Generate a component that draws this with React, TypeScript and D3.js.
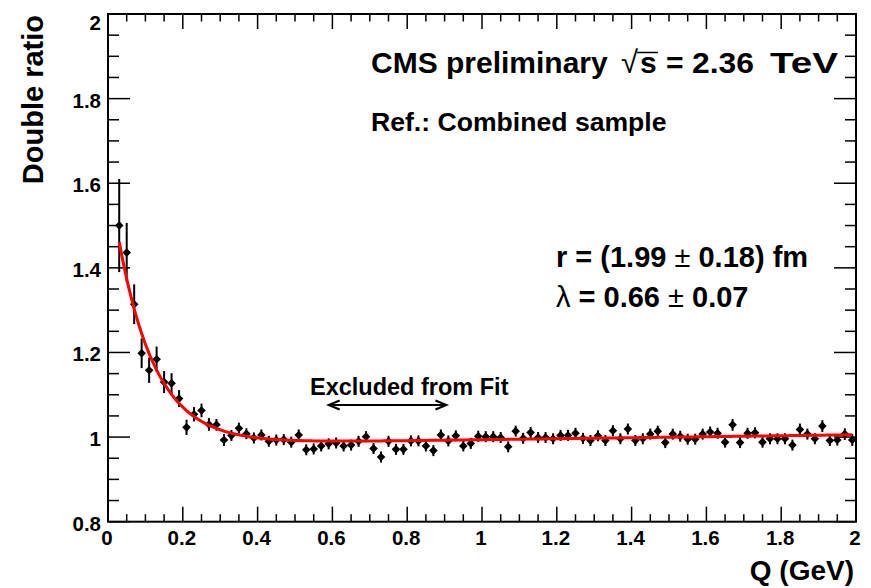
import React from 'react';
import * as d3 from 'd3';

// Bin centres of Q (GeV)
const qCenters = [
  0.03, 0.05, 0.07, 0.09, 0.11, 0.13, 0.15, 0.17, 0.19, 0.21,
  0.23, 0.25, 0.27, 0.29, 0.31, 0.33, 0.35, 0.37, 0.39, 0.41,
  0.43, 0.45, 0.47, 0.49, 0.51, 0.53, 0.55, 0.57, 0.59, 0.61,
  0.63, 0.65, 0.67, 0.69, 0.71, 0.73, 0.75, 0.77, 0.79, 0.81,
  0.83, 0.85, 0.87, 0.89, 0.91, 0.93, 0.95, 0.97, 0.99, 1.01,
  1.03, 1.05, 1.07, 1.09, 1.11, 1.13, 1.15, 1.17, 1.19, 1.21,
  1.23, 1.25, 1.27, 1.29, 1.31, 1.33, 1.35, 1.37, 1.39, 1.41,
  1.43, 1.45, 1.47, 1.49, 1.51, 1.53, 1.55, 1.57, 1.59, 1.61,
  1.63, 1.65, 1.67, 1.69, 1.71, 1.73, 1.75, 1.77, 1.79, 1.81,
  1.83, 1.85, 1.87, 1.89, 1.91, 1.93, 1.95, 1.97, 1.99,
];

// Double ratio values
const doubleRatio = [
  1.500, 1.436, 1.314, 1.198, 1.158, 1.184, 1.130, 1.127, 1.091, 1.023,
  1.054, 1.063, 1.030, 1.029, 0.993, 1.004, 1.021, 1.008, 0.998, 1.005,
  0.990, 0.993, 0.994, 0.988, 1.005, 0.970, 0.972, 0.979, 0.984, 0.986,
  0.979, 0.981, 0.990, 1.001, 0.973, 0.953, 0.990, 0.971, 0.971, 0.991,
  0.991, 0.979, 0.968, 1.005, 0.991, 1.003, 0.979, 0.985, 1.002, 1.001,
  1.001, 0.999, 0.977, 1.014, 0.997, 1.011, 0.999, 0.999, 0.996, 1.004,
  1.004, 1.009, 0.997, 0.992, 1.003, 0.992, 1.015, 0.996, 1.019, 0.992,
  0.996, 1.007, 1.014, 0.987, 1.007, 1.002, 0.995, 0.995, 1.007, 1.012,
  1.009, 0.988, 1.029, 0.987, 1.009, 1.010, 0.988, 0.996, 0.996, 0.996,
  0.981, 1.018, 1.007, 0.996, 1.026, 0.992, 0.993, 1.007, 0.993,
];

// Statistical errors
const ratioErrors = [
  0.110, 0.070, 0.047, 0.035, 0.030, 0.030, 0.026, 0.024, 0.020, 0.018,
  0.017, 0.016, 0.015, 0.014, 0.014, 0.013, 0.013, 0.013, 0.013, 0.013,
  0.013, 0.013, 0.013, 0.013, 0.013, 0.013, 0.013, 0.013, 0.013, 0.013,
  0.013, 0.013, 0.013, 0.013, 0.013, 0.013, 0.013, 0.013, 0.013, 0.013,
  0.013, 0.013, 0.013, 0.013, 0.013, 0.013, 0.013, 0.013, 0.013, 0.013,
  0.013, 0.013, 0.013, 0.013, 0.013, 0.013, 0.013, 0.013, 0.013, 0.013,
  0.013, 0.013, 0.013, 0.013, 0.013, 0.013, 0.013, 0.013, 0.013, 0.013,
  0.013, 0.013, 0.013, 0.013, 0.013, 0.013, 0.013, 0.013, 0.013, 0.013,
  0.013, 0.013, 0.014, 0.013, 0.013, 0.013, 0.013, 0.013, 0.013, 0.013,
  0.013, 0.014, 0.013, 0.013, 0.014, 0.013, 0.013, 0.014, 0.014,
];

const xTickLabels = ['0', '0.2', '0.4', '0.6', '0.8', '1', '1.2', '1.4', '1.6', '1.8', '2'];
const yTickLabels = ['0.8', '1', '1.2', '1.4', '1.6', '1.8', '2'];

// Fit: C * (1 + lambda * exp(-r Q / hbar c)) * (1 + delta Q)
const fitNorm = 0.982;
const fitLambda = 0.66;
const fitRadiusFm = 1.99;
const fitDelta = 0.012;
const fitRange = [0.03, 1.99];
const excludedRange = [0.59, 0.905];
const HBARC = 0.1973;

const W = 871;
const H = 588;
const FONT = '"Liberation Sans", Arial, Helvetica, sans-serif';

export default function App() {
  const x = d3.scaleLinear().domain([0, 2]).range([108, 856]);
  const y = d3.scaleLinear().domain([0.8, 2]).range([521.7, 14]);
  const [x0, x1] = x.range();
  const [y0, y1] = [y(0.8), y(2)];

  const xMajor = x.ticks(10);
  const xMinor = x.ticks(40);
  const yMajor = y.ticks(6);
  const yMinor = y.ticks(24);

  const fitFn = (q: number) =>
    fitNorm * (1 + fitLambda * Math.exp((-fitRadiusFm * q) / HBARC)) * (1 + fitDelta * q);
  const fitPts = d3.range(0, 401).map((i) => fitRange[0] + ((fitRange[1] - fitRange[0]) * i) / 400);
  const fitLine = d3
    .line<number>()
    .x((q) => x(q))
    .y((q) => y(fitFn(q)))(fitPts);

  const ms = 4.3;
  const ax = x(excludedRange[0]);
  const bx = x(excludedRange[1]);
  const ay = 405;

  return (
    <svg
      width={W}
      height={H}
      style={{ position: 'absolute', left: 0, top: 0, background: '#fff' }}
      fontFamily={FONT}
    >
      <rect x={0} y={0} width={W} height={H} fill="#fff" />

      {/* ticks */}
      <g stroke="#000" strokeWidth={1.5}>
        {xMinor.map((t, i) => {
          const major = xMajor.some((m) => Math.abs(m - t) < 1e-9);
          const len = major ? 15 : 7.5;
          return (
            <g key={'xt' + i}>
              <line x1={x(t)} x2={x(t)} y1={y0} y2={y0 - len} />
              <line x1={x(t)} x2={x(t)} y1={y1} y2={y1 + len} />
            </g>
          );
        })}
        {yMinor.map((t, i) => {
          const major = yMajor.some((m) => Math.abs(m - t) < 1e-9);
          const len = major ? 22 : 11;
          return (
            <g key={'yt' + i}>
              <line x1={x0} x2={x0 + len} y1={y(t)} y2={y(t)} />
              <line x1={x1} x2={x1 - len} y1={y(t)} y2={y(t)} />
            </g>
          );
        })}
      </g>

      {/* frame */}
      <rect x={x0} y={y1} width={x1 - x0} height={y0 - y1} fill="none" stroke="#000" strokeWidth={2} />

      {/* tick labels */}
      <g fontSize={20.5} fontWeight="bold" fill="#000">
        {xMajor.map((t, i) => (
          <text key={'xl' + i} x={x(t) - 1} y={545} textAnchor="middle">
            {xTickLabels[i]}
          </text>
        ))}
        {yMajor.map((t, i) => (
          <text
            key={'yl' + i}
            x={101}
            y={y(t) + (i === yMajor.length - 1 ? 8 : 1.5)}
            textAnchor="end"
            dominantBaseline="central"
          >
            {yTickLabels[i]}
          </text>
        ))}
      </g>

      {/* axis titles */}
      <text x={854} y={580} textAnchor="end" fontSize={28} fontWeight="bold">
        Q (GeV)
      </text>
      <text
        transform={`translate(43,15) rotate(-90)`}
        textAnchor="end"
        fontSize={29}
        fontWeight="bold"
      >
        Double ratio
      </text>

      {/* error bars */}
      <g stroke="#000" strokeWidth={2}>
        {qCenters.map((q, i) => (
          <line
            key={'e' + i}
            x1={x(q)}
            x2={x(q)}
            y1={y(doubleRatio[i] + ratioErrors[i])}
            y2={y(doubleRatio[i] - ratioErrors[i])}
          />
        ))}
      </g>

      {/* markers */}
      <g fill="#000">
        {qCenters.map((q, i) => {
          const cx = x(q);
          const cy = y(doubleRatio[i]);
          return (
            <path
              key={'m' + i}
              d={`M${cx},${cy - ms}L${cx + ms},${cy}L${cx},${cy + ms}L${cx - ms},${cy}Z`}
            />
          );
        })}
      </g>

      {/* fit curve */}
      <path d={fitLine || ''} fill="none" stroke="#ff0000" strokeWidth={3} />

      {/* excluded from fit arrow */}
      <g stroke="#000" strokeWidth={2} fill="none">
        <line x1={ax} x2={bx} y1={ay} y2={ay} />
        <polyline points={`${ax + 11},${ay - 4.5} ${ax},${ay} ${ax + 11},${ay + 4.5}`} />
        <polyline points={`${bx - 11},${ay - 4.5} ${bx},${ay} ${bx - 11},${ay + 4.5}`} />
      </g>
      <text x={310} y={395} fontSize={23.5} fontWeight="bold">
        Excluded from Fit
      </text>

      {/* CMS label */}
      <text x={371} y={73} fontSize={30} fontWeight="bold">
        CMS preliminary
      </text>
      <text x={621} y={73} fontSize={31} fontWeight="normal">
        √
      </text>
      <text x={640} y={73} fontSize={30} fontWeight="bold">
        s
      </text>
      <line x1={637} x2={658} y1={52.5} y2={52.5} stroke="#000" strokeWidth={1.5} />
      <text x={666} y={73} fontSize={30} fontWeight="bold">
        =
      </text>
      <text x={692} y={73} fontSize={30} fontWeight="bold" textLength={62} lengthAdjust="spacingAndGlyphs">
        2.36
      </text>
      <text x={838} y={73} fontSize={30} fontWeight="bold" textAnchor="end" textLength={68} lengthAdjust="spacingAndGlyphs">
        TeV
      </text>

      <text x={371} y={131} fontSize={26.6} fontWeight="bold">
        Ref.: Combined sample
      </text>

      <text x={556} y={267} fontSize={29} fontWeight="bold" xmlSpace="preserve">
        <tspan>r = (1.99 </tspan>
        <tspan fontWeight="normal">±</tspan>
        <tspan> 0.18) fm</tspan>
      </text>
      <text x={556} y={307} fontSize={29} fontWeight="bold" xmlSpace="preserve">
        <tspan fontWeight="normal">λ</tspan>
        <tspan> = 0.66 </tspan>
        <tspan fontWeight="normal">±</tspan>
        <tspan> 0.07</tspan>
      </text>
    </svg>
  );
}
